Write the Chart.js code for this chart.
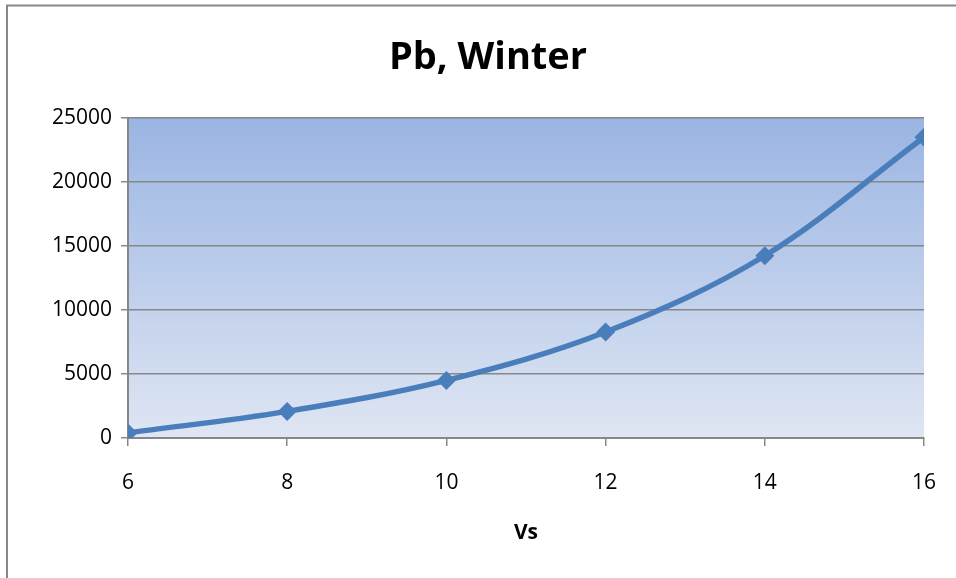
<!DOCTYPE html>
<html>
<head>
<meta charset="utf-8">
<script src="https://cdn.jsdelivr.net/npm/chart.js@4/dist/chart.umd.min.js"></script>
<style>
  html, body { margin: 0; padding: 0; background: #ffffff; }
  #wrap { width: 956px; height: 578px; }
</style>
</head>
<body>
<div id="wrap"><canvas id="c" width="956" height="578"></canvas></div>
<script>
// Wind speed (Vs) against Pb, winter season
const vsValues = [6, 8, 10, 12, 14, 16];
const pbValues = [400, 2080, 4500, 8280, 14240, 23500];
const yTicks = [0, 5000, 10000, 15000, 20000, 25000];
const xTicks = [6, 8, 10, 12, 14, 16];

const FONT = "'Open Sans', Lato, 'Liberation Sans', sans-serif";
const GRID = '#878787';

// Gradient fill behind the plot area, plus the outer frame of the chart
const framePlugin = {
  id: 'frame',
  beforeDraw(chart) {
    const { ctx, chartArea: a } = chart;
    ctx.save();
    const g = ctx.createLinearGradient(0, a.top, 0, a.bottom);
    g.addColorStop(0, '#9ab5e3');
    g.addColorStop(1, '#dfe6f3');
    ctx.fillStyle = g;
    ctx.fillRect(a.left, a.top, a.right - a.left, a.bottom - a.top);
    ctx.strokeStyle = '#888888';
    ctx.lineWidth = 2;
    ctx.beginPath();
    ctx.moveTo(7, 600);
    ctx.lineTo(7, 5.5);
    ctx.lineTo(1000, 5.5);
    ctx.stroke();
    ctx.restore();
  }
};

new Chart(document.getElementById('c'), {
  type: 'line',
  data: {
    datasets: [{
      label: 'Pb',
      data: vsValues.map((v, i) => ({ x: v, y: pbValues[i] })),
      borderColor: '#4a7ebb',
      backgroundColor: '#4a7ebb',
      borderWidth: 5.5,
      tension: 0.35,
      pointStyle: 'rectRot',
      pointRadius: 9.5,
      pointHoverRadius: 9.5,
      pointBorderWidth: 0,
      fill: false
    }]
  },
  options: {
    responsive: false,
    animation: false,
    events: [],
    layout: { padding: { left: 52, right: 32, top: 0, bottom: 0 } },
    plugins: {
      legend: { display: false },
      tooltip: { enabled: false },
      title: {
        display: true,
        text: 'Pb, Winter',
        color: '#000000',
        font: { family: FONT, size: 38, weight: 'bold', lineHeight: 1.2 },
        padding: { top: 35, bottom: 37.4 }
      }
    },
    scales: {
      x: {
        type: 'linear',
        min: 6,
        max: 16,
        afterBuildTicks(scale) { scale.ticks = xTicks.map(v => ({ value: v })); },
        afterFit(scale) {
          scale.height = 140;
          scale.paddingLeft = 0;
          scale.paddingRight = 0;
        },
        grid: {
          drawOnChartArea: false,
          drawTicks: true,
          tickLength: 8,
          tickColor: GRID,
          lineWidth: 1.5
        },
        border: { color: GRID, width: 2 },
        ticks: {
          color: '#000000',
          padding: 24,
          font: { family: FONT, size: 21 },
          callback: (v) => String(v)
        },
        title: {
          display: true,
          text: 'Vs',
          color: '#000000',
          font: { family: FONT, size: 21, weight: 'bold', lineHeight: 1.2 },
          padding: { top: 0, bottom: 32 }
        }
      },
      y: {
        type: 'linear',
        min: 0,
        max: 25000,
        afterBuildTicks(scale) { scale.ticks = yTicks.map(v => ({ value: v })); },
        afterFit(scale) {
          scale.width = 76;
          scale.paddingTop = 0;
          scale.paddingBottom = 0;
        },
        grid: {
          color: GRID,
          lineWidth: 1.5,
          drawTicks: true,
          tickLength: 7,
          tickColor: GRID
        },
        border: { color: GRID, width: 2 },
        ticks: {
          color: '#000000',
          padding: 9,
          font: { family: FONT, size: 21 },
          callback: (v) => String(v)
        }
      }
    }
  },
  plugins: [framePlugin]
});
</script>
</body>
</html>
